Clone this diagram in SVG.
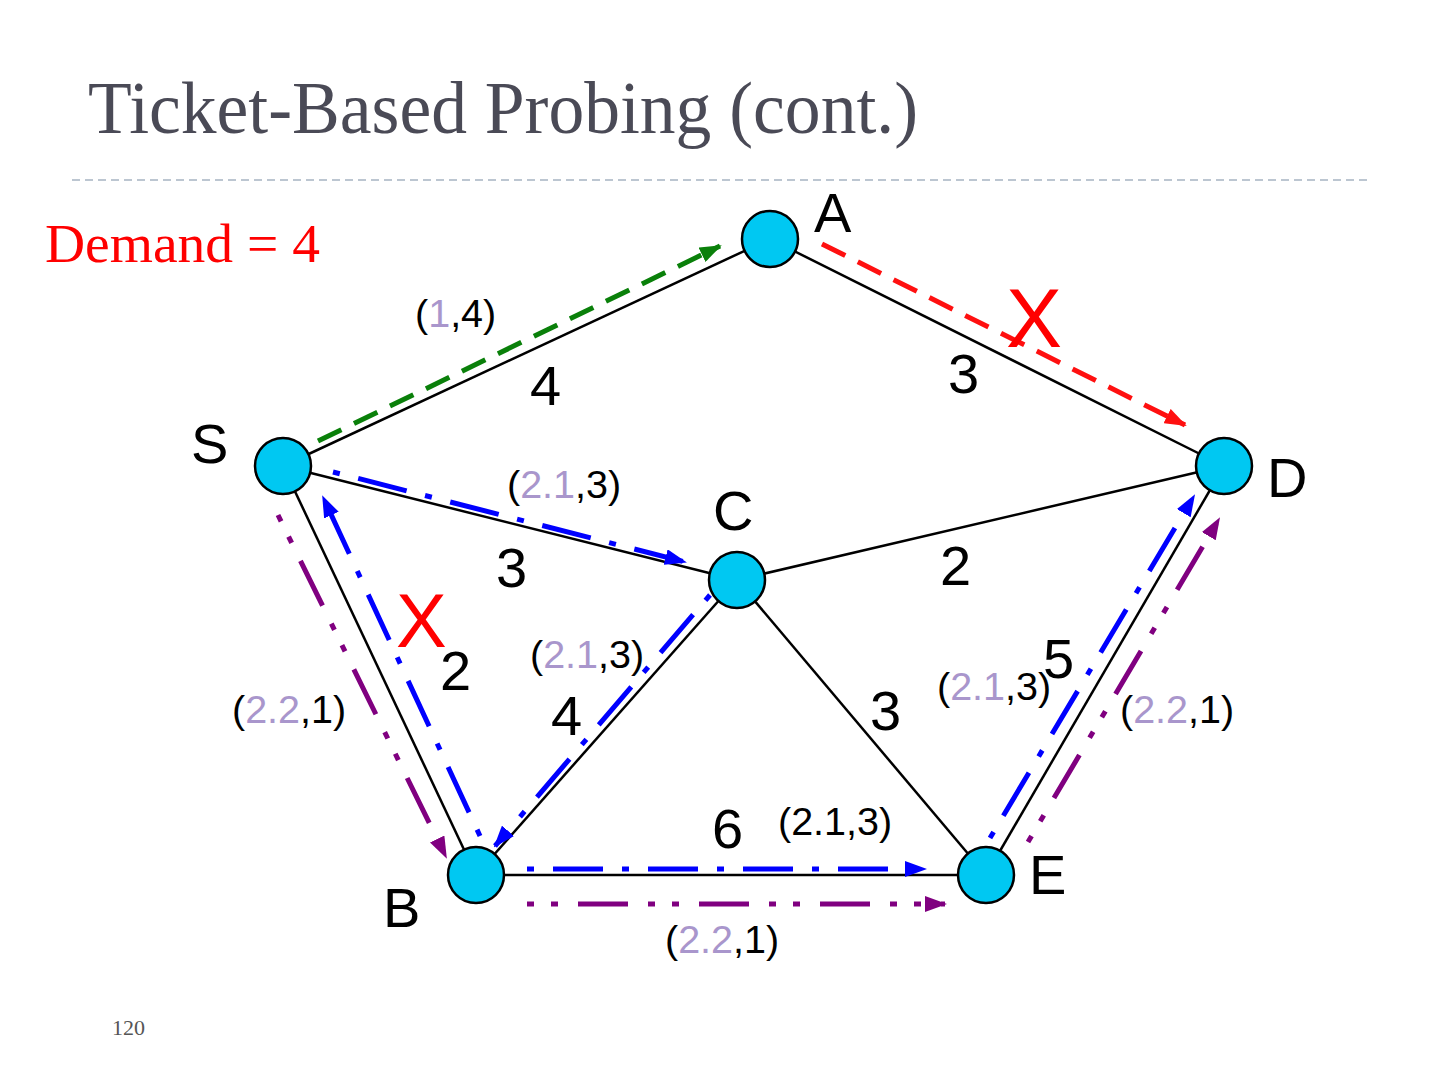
<svg xmlns="http://www.w3.org/2000/svg" width="1440" height="1080" viewBox="0 0 1440 1080">
<style>
.edge{stroke:#000;stroke-width:2.5;fill:none}
.node{fill:#00c8f2;stroke:#000;stroke-width:2.5}
.lbl{font-family:"Liberation Sans",Arial,sans-serif;font-size:56px;fill:#000}
.tk{font-family:"Liberation Sans",Arial,sans-serif;font-size:39.5px;fill:#000}
.lv{fill:#a996cc}
.x{font-family:"Liberation Sans",Arial,sans-serif;fill:#ff0000}
.green{stroke:#0a800a;stroke-width:5;fill:none;stroke-dasharray:26 14}
.red{stroke:#ff1010;stroke-width:5;fill:none;stroke-dasharray:26 14}
.blue{stroke:#0000ff;stroke-width:5;fill:none;stroke-dasharray:7 19 50 19}
.purple{stroke:#800080;stroke-width:5;fill:none;stroke-dasharray:7 17 7 20 50 20}
</style>
<defs>
<marker id="ag" markerUnits="userSpaceOnUse" markerWidth="22" markerHeight="16" refX="20" refY="8" orient="auto"><path d="M0,0 L22,8 L0,16 z" fill="#0a800a"/></marker>
<marker id="ar" markerUnits="userSpaceOnUse" markerWidth="22" markerHeight="16" refX="20" refY="8" orient="auto"><path d="M0,0 L22,8 L0,16 z" fill="#ff1010"/></marker>
<marker id="ab" markerUnits="userSpaceOnUse" markerWidth="22" markerHeight="16" refX="20" refY="8" orient="auto"><path d="M0,0 L22,8 L0,16 z" fill="#0000ff"/></marker>
<marker id="ap" markerUnits="userSpaceOnUse" markerWidth="22" markerHeight="16" refX="20" refY="8" orient="auto"><path d="M0,0 L22,8 L0,16 z" fill="#800080"/></marker>
</defs>
<rect width="1440" height="1080" fill="#fff"/>
<text x="88" y="133" font-family="'Liberation Serif','Times New Roman',serif" font-size="75" fill="#4a4a56" textLength="830" lengthAdjust="spacingAndGlyphs">Ticket-Based Probing (cont.)</text>
<line x1="72" y1="180" x2="1368" y2="180" stroke="#a6b4c2" stroke-width="1.5" stroke-dasharray="8 5"/>
<text x="45" y="262" font-family="'Liberation Serif','Times New Roman',serif" font-size="54" fill="#ff0000" textLength="275" lengthAdjust="spacingAndGlyphs">Demand = 4</text>
<text x="112" y="1035" font-family="'Liberation Serif','Times New Roman',serif" font-size="22" fill="#555">120</text>

<g id="edges">
<line class="edge" x1="283" y1="466" x2="770" y2="239"/>
<line class="edge" x1="770" y1="239" x2="1224" y2="466"/>
<line class="edge" x1="283" y1="466" x2="737" y2="580"/>
<line class="edge" x1="737" y1="580" x2="1224" y2="466"/>
<line class="edge" x1="283" y1="466" x2="476" y2="875"/>
<line class="edge" x1="737" y1="580" x2="476" y2="875"/>
<line class="edge" x1="737" y1="580" x2="986" y2="875"/>
<line class="edge" x1="476" y1="875" x2="986" y2="875"/>
<line class="edge" x1="986" y1="875" x2="1224" y2="466"/>
</g>

<g id="connectors">
<line class="green" x1="318" y1="441" x2="720" y2="246" marker-end="url(#ag)"/>
<line class="red" x1="822" y1="244" x2="1185" y2="425" marker-end="url(#ar)"/>
<line class="blue" x1="333" y1="472" x2="685" y2="562" marker-end="url(#ab)"/>
<line class="blue" x1="480" y1="836" x2="323" y2="497" marker-end="url(#ab)"/>
<line class="blue" x1="710" y1="595" x2="495" y2="846" marker-end="url(#ab)"/>
<line class="purple" x1="278" y1="515" x2="446" y2="857" marker-end="url(#ap)"/>
<line class="blue" x1="527" y1="869" x2="925" y2="869" marker-end="url(#ab)"/>
<line class="purple" x1="527" y1="904" x2="945" y2="904" marker-end="url(#ap)"/>
<line class="blue" x1="990" y1="838" x2="1194" y2="496" marker-end="url(#ab)"/>
<line class="purple" x1="1028" y1="842" x2="1219" y2="519" marker-end="url(#ap)"/>
</g>

<g id="node-A"><circle class="node" cx="770" cy="239" r="28"/><text class="lbl" x="814" y="232">A</text></g>
<g id="node-S"><circle class="node" cx="283" cy="466" r="28"/><text class="lbl" x="191" y="463">S</text></g>
<g id="node-D"><circle class="node" cx="1224" cy="466" r="28"/><text class="lbl" x="1267" y="497">D</text></g>
<g id="node-C"><circle class="node" cx="737" cy="580" r="28"/><text class="lbl" x="713" y="530">C</text></g>
<g id="node-B"><circle class="node" cx="476" cy="875" r="28"/><text class="lbl" x="383" y="927">B</text></g>
<g id="node-E"><circle class="node" cx="986" cy="875" r="28"/><text class="lbl" x="1029" y="894">E</text></g>

<g id="weights">
<text class="lbl" x="530" y="405">4</text>
<text class="lbl" x="948" y="393">3</text>
<text class="lbl" x="496" y="587">3</text>
<text class="lbl" x="940" y="585">2</text>
<text class="lbl" x="440" y="690">2</text>
<text class="lbl" x="1043" y="678">5</text>
<text class="lbl" x="551" y="735">4</text>
<text class="lbl" x="870" y="730">3</text>
<text class="lbl" x="712" y="848">6</text>
</g>

<g id="marks">
<text class="x" x="1006" y="347" font-size="84">X</text>
<text class="x" x="396" y="647" font-size="76">X</text>
</g>

<g id="tickets">
<text class="tk" x="415" y="327">(<tspan class="lv">1</tspan>,4)</text>
<text class="tk" x="507" y="498">(<tspan class="lv">2.1</tspan>,3)</text>
<text class="tk" x="530" y="668">(<tspan class="lv">2.1</tspan>,3)</text>
<text class="tk" x="937" y="700">(<tspan class="lv">2.1</tspan>,3)</text>
<text class="tk" x="232" y="723">(<tspan class="lv">2.2</tspan>,1)</text>
<text class="tk" x="1120" y="723">(<tspan class="lv">2.2</tspan>,1)</text>
<text class="tk" x="778" y="835">(2.1,3)</text>
<text class="tk" x="665" y="953">(<tspan class="lv">2.2</tspan>,1)</text>
</g>
</svg>
